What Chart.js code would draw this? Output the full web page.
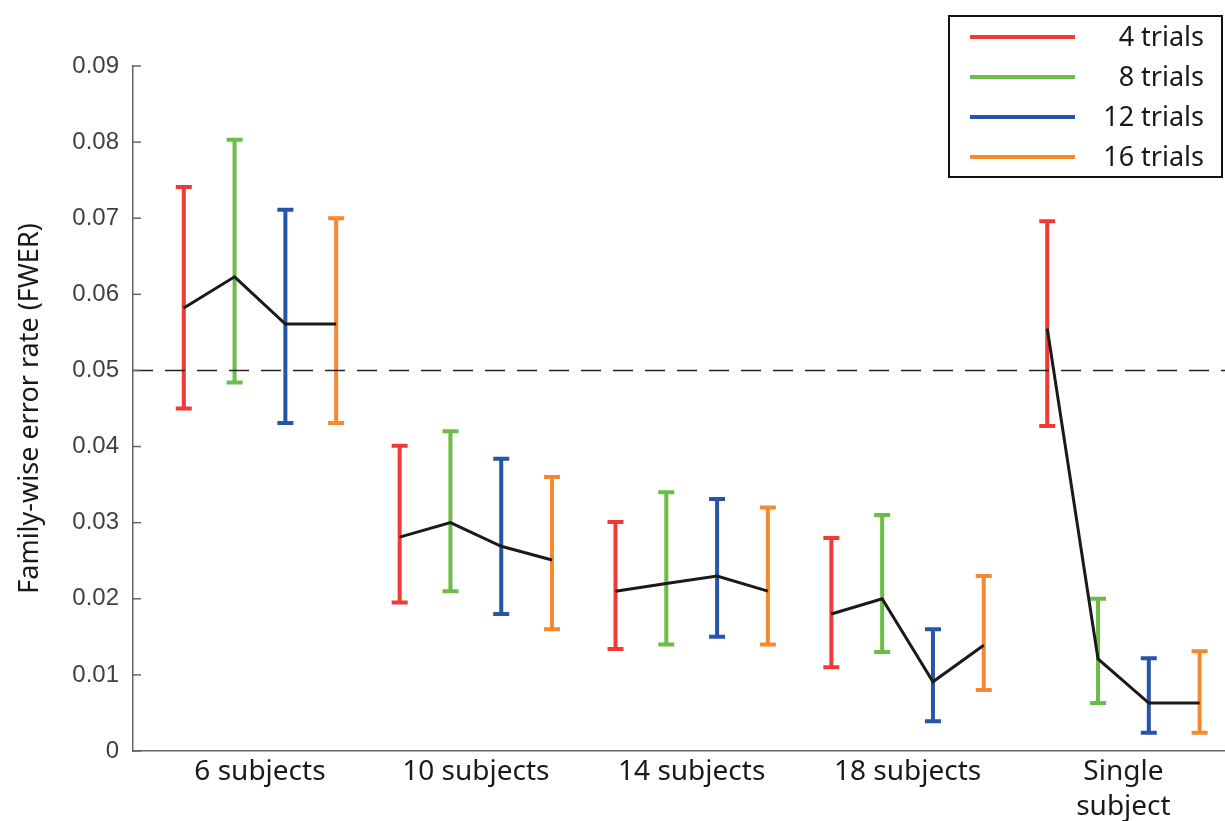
<!DOCTYPE html>
<html>
<head>
<meta charset="utf-8">
<script src="https://cdn.jsdelivr.net/npm/chart.js@4"></script>
<style>
  html, body { margin: 0; padding: 0; background: #fff; }
  #wrap { width: 1225px; height: 821px; }
</style>
</head>
<body>
<div id="wrap"><canvas id="chart"></canvas></div>
<script>
const groups = ["6 subjects", "10 subjects", "14 subjects", "18 subjects", ["Single", "subject"]];
const trials = ["4 trials", "8 trials", "12 trials", "16 trials"];
const colors = ["#ef3a36", "#6cbd47", "#2555a5", "#f6882f"];

// one row per trial count, one value per group
const means = [
  [0.0582, 0.0281, 0.021, 0.018, 0.0555],
  [0.0623, 0.030, 0.022, 0.020, 0.0121],
  [0.0561, 0.0269, 0.023, 0.0091, 0.0063],
  [0.0561, 0.0251, 0.021, 0.0139, 0.0063],
];
const upper = [
  [0.0741, 0.0401, 0.0301, 0.028, 0.0696],
  [0.0803, 0.042, 0.034, 0.031, 0.020],
  [0.0711, 0.0384, 0.0331, 0.016, 0.0122],
  [0.070, 0.036, 0.032, 0.023, 0.0131],
];
const lower = [
  [0.045, 0.0195, 0.0134, 0.011, 0.0427],
  [0.0484, 0.021, 0.014, 0.013, 0.0063],
  [0.0431, 0.018, 0.015, 0.0039, 0.0024],
  [0.0431, 0.016, 0.014, 0.008, 0.0024],
];
const threshold = 0.05;
const groupStep = 4.25;

const xOf = (g, t) => g * groupStep + t;
const groupCenters = groups.map((_, g) => xOf(g, 1.5));

// black mean line, broken between groups
const linePts = [];
groups.forEach((_, g) => {
  trials.forEach((_, t) => linePts.push({ x: xOf(g, t), y: means[t][g] }));
  linePts.push({ x: xOf(g, 3.5), y: null });
});

const errorBars = {
  id: "errorBars",
  beforeDatasetsDraw(chart) {
    const { ctx, scales: { x, y } } = chart;
    ctx.save();
    ctx.lineWidth = 4;
    trials.forEach((_, t) => {
      ctx.strokeStyle = colors[t];
      groups.forEach((_, g) => {
        const px = x.getPixelForValue(xOf(g, t));
        const top = y.getPixelForValue(upper[t][g]);
        const bot = y.getPixelForValue(lower[t][g]);
        ctx.beginPath();
        ctx.moveTo(px, top); ctx.lineTo(px, bot);
        ctx.moveTo(px - 8, top); ctx.lineTo(px + 8, top);
        ctx.moveTo(px - 8, bot); ctx.lineTo(px + 8, bot);
        ctx.stroke();
      });
    });
    ctx.restore();
  },
  afterDraw(chart) {
    const { ctx, scales: { y } } = chart;
    ctx.save();
    // inward ticks on the y axis
    ctx.strokeStyle = "#666";
    ctx.lineWidth = 1.5;
    y.ticks.forEach(tk => {
      const py = y.getPixelForValue(tk.value);
      ctx.beginPath();
      ctx.moveTo(y.right, py); ctx.lineTo(y.right + 8, py);
      ctx.stroke();
    });
    // legend box
    const bx = 949, by = 16, bw = 273, bh = 161;
    ctx.fillStyle = "#fff";
    ctx.fillRect(bx, by, bw, bh);
    ctx.strokeStyle = "#111";
    ctx.lineWidth = 2;
    ctx.strokeRect(bx, by, bw, bh);
    ctx.font = "27px 'Noto Sans'";
    ctx.textAlign = "right";
    ctx.textBaseline = "middle";
    trials.forEach((name, t) => {
      const ly = 37 + t * 40;
      ctx.strokeStyle = colors[t];
      ctx.lineWidth = 4;
      ctx.beginPath();
      ctx.moveTo(970, ly); ctx.lineTo(1075, ly);
      ctx.stroke();
      ctx.fillStyle = "#1a1a1a";
      ctx.fillText(name, 1204, ly + 1);
    });
    ctx.restore();
  }
};

new Chart(document.getElementById("chart"), {
  type: "scatter",
  data: {
    datasets: [
      {
        data: [{ x: -1, y: threshold }, { x: 20.5, y: threshold }],
        showLine: true,
        borderColor: "#222",
        borderWidth: 1.5,
        borderDash: [20, 12],
        pointRadius: 0,
      },
      {
        data: linePts,
        showLine: true,
        spanGaps: false,
        borderColor: "#1a1a1a",
        borderWidth: 3,
        pointRadius: 0,
      },
    ],
  },
  options: {
    responsive: true,
    maintainAspectRatio: false,
    animation: false,
    layout: { padding: { top: 66, right: 0, left: 0, bottom: 0 } },
    plugins: { legend: { display: false }, tooltip: { enabled: false } },
    scales: {
      x: {
        type: "linear",
        min: -1,
        max: 20.5,
        afterBuildTicks: scale => { scale.ticks = groupCenters.map(v => ({ value: v })); },
        afterFit: scale => { scale.height = 70; },
        grid: { display: false, drawTicks: false },
        border: { color: "#666", width: 1.5 },
        ticks: {
          padding: 4,
          color: "#1a1a1a",
          font: { family: "Noto Sans", size: 28, lineHeight: 1.25 },
          callback: (v, i) => groups[i],
          maxRotation: 0,
          autoSkip: false,
        },
      },
      y: {
        min: 0,
        max: 0.09,
        afterFit: scale => { scale.width = 133; },
        grid: { display: false, drawTicks: false },
        border: { color: "#666", width: 1.5 },
        ticks: {
          stepSize: 0.01,
          padding: 14,
          color: "#404040",
          font: { family: "Liberation Sans", size: 24 },
          callback: v => (v === 0 ? "0" : v.toFixed(2)),
        },
        title: {
          display: true,
          text: "Family-wise error rate (FWER)",
          color: "#1a1a1a",
          font: { family: "Noto Sans", size: 27 },
          padding: { top: 14, bottom: 0 },
        },
      },
    },
  },
  plugins: [errorBars],
});
</script>
</body>
</html>
